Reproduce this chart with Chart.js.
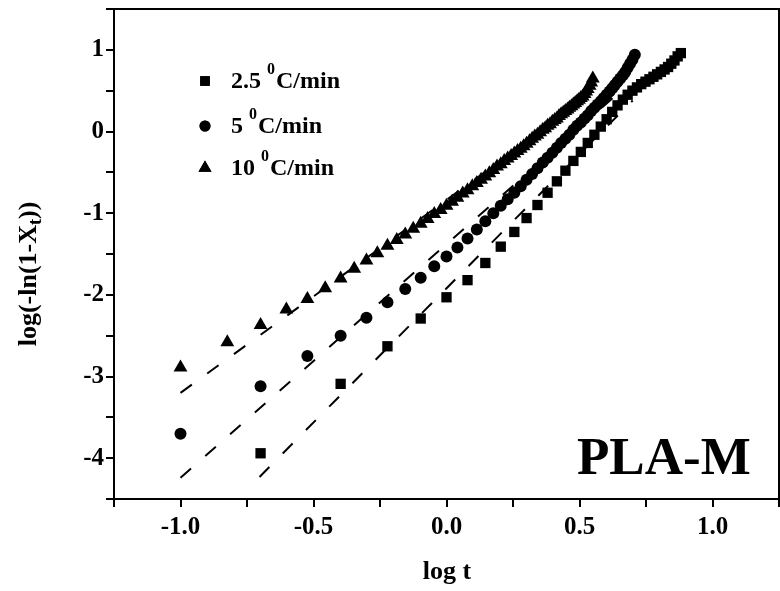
<!DOCTYPE html>
<html><head><meta charset="utf-8">
<script src="https://cdn.jsdelivr.net/npm/chart.js@4.4.1/dist/chart.umd.min.js"></script>
<style>html,body{margin:0;padding:0;background:#fff}canvas{display:block}</style>
</head><body>
<canvas id="c" width="780" height="591" style="width:780px;height:591px"></canvas>
<script>
// ---- data (log t, log(-ln(1-Xt))) ----
const seriesLabels = ['2.5', '5', '10'];
const xTickLabels = ['-1.0', '-0.5', '0.0', '0.5', '1.0'];
const yTickLabels = ['1', '0', '-1', '-2', '-3', '-4'];

const sqX = [-0.699,-0.398,-0.222,-0.097,0.000,0.079,0.146,0.204,0.255,0.301,0.342,0.380,0.415,0.447,0.477,0.505,0.531,0.556,0.580,0.602,0.623,0.643,0.663,0.681,0.699,0.716,0.732,0.748,0.763,0.778,0.792,0.806,0.820,0.833,0.845,0.857,0.869,0.881];
const sqY = [-3.94,-3.09,-2.63,-2.29,-2.03,-1.82,-1.61,-1.41,-1.23,-1.06,-0.90,-0.75,-0.61,-0.48,-0.36,-0.25,-0.14,-0.04,0.06,0.15,0.24,0.32,0.39,0.45,0.50,0.54,0.58,0.61,0.64,0.67,0.70,0.73,0.76,0.79,0.83,0.87,0.92,0.96];

const ciX = [-1.000,-0.699,-0.523,-0.398,-0.301,-0.222,-0.155,-0.097,-0.046,0.000,0.041,0.079,0.114,0.146,0.176,0.204,0.230,0.255,0.279,0.301,0.322,0.342,0.362,0.380,0.398,0.415,0.431,0.447,0.462,0.477,0.491,0.505,0.519,0.531,0.544,0.556,0.568,0.580,0.591,0.602,0.613,0.623,0.633,0.643,0.653,0.663,0.672,0.681,0.690,0.699,0.708];
const ciY = [-3.70,-3.12,-2.75,-2.50,-2.28,-2.09,-1.93,-1.79,-1.65,-1.53,-1.42,-1.31,-1.20,-1.10,-1.00,-0.91,-0.83,-0.75,-0.67,-0.59,-0.52,-0.45,-0.38,-0.32,-0.26,-0.20,-0.14,-0.09,-0.04,0.02,0.07,0.11,0.16,0.20,0.25,0.29,0.33,0.37,0.41,0.45,0.49,0.53,0.57,0.61,0.65,0.69,0.73,0.78,0.83,0.88,0.94];

const trX = [-1.000,-0.824,-0.699,-0.602,-0.523,-0.456,-0.398,-0.347,-0.301,-0.260,-0.222,-0.187,-0.155,-0.125,-0.097,-0.071,-0.046,-0.022,0.000,0.021,0.041,0.061,0.079,0.097,0.114,0.130,0.146,0.161,0.176,0.190,0.204,0.217,0.230,0.243,0.255,0.267,0.279,0.290,0.301,0.312,0.322,0.332,0.342,0.352,0.362,0.371,0.380,0.389,0.398,0.407,0.415,0.423,0.431,0.439,0.447,0.455,0.462,0.470,0.477,0.484,0.491,0.498,0.505,0.512,0.519,0.525,0.531,0.538,0.544,0.550];
const trY = [-2.89,-2.58,-2.37,-2.18,-2.05,-1.92,-1.80,-1.68,-1.58,-1.49,-1.40,-1.33,-1.26,-1.19,-1.13,-1.07,-1.01,-0.96,-0.91,-0.86,-0.81,-0.76,-0.72,-0.67,-0.63,-0.59,-0.55,-0.51,-0.47,-0.43,-0.40,-0.36,-0.33,-0.30,-0.27,-0.24,-0.21,-0.18,-0.15,-0.12,-0.09,-0.06,-0.04,-0.01,0.02,0.04,0.07,0.09,0.12,0.14,0.16,0.19,0.21,0.23,0.25,0.27,0.29,0.31,0.33,0.35,0.37,0.39,0.41,0.43,0.46,0.49,0.52,0.56,0.60,0.65];

// linear (Avrami) fit lines: endpoints
const fitSqX = [-0.703, 0.70];
const fitSqY = [-4.23, 0.38];
const fitCiX = [-1.0, 0.65];
const fitCiY = [-4.24, 0.48];
const fitTrX = [-1.0, 0.52];
const fitTrY = [-3.20, 0.39];

const pts = (xs, ys) => xs.map((x, i) => ({x: x, y: ys[i]}));
const FONT = '"Liberation Serif", "Times New Roman", serif';

const markerStyles = [
  {pointStyle: 'rect', radius: 7.3},
  {pointStyle: 'circle', radius: 6},
  {pointStyle: 'triangle', radius: 8}
];

function scatterDs(xs, ys, m, label) {
  return {type: 'scatter', label: label, data: pts(xs, ys), showLine: false,
    pointStyle: m.pointStyle, pointRadius: m.radius, pointHoverRadius: m.radius,
    pointBackgroundColor: '#000', pointBorderColor: '#000', pointBorderWidth: 0, order: 1};
}
function fitDs(xs, ys) {
  return {type: 'line', data: pts(xs, ys), showLine: true, borderColor: '#000', borderWidth: 2,
    borderDash: [14, 19], pointRadius: 0, fill: false, tension: 0, order: 2};
}

const overlay = {
  id: 'overlay',
  afterDraw(chart) {
    const ctx = chart.ctx, a = chart.chartArea;
    ctx.save();
    ctx.strokeStyle = '#000'; ctx.lineWidth = 2;
    ctx.strokeRect(a.left, a.top, a.right - a.left, a.bottom - a.top);
    ctx.fillStyle = '#000';
    // legend
    const rows = [81, 126, 168];
    const H = Chart.helpers;
    for (let i = 0; i < 3; i++) {
      const y = rows[i];
      H.drawPoint(ctx, {pointStyle: markerStyles[i].pointStyle, radius: markerStyles[i].radius - 0.5, rotation: 0, borderWidth: 0}, 205, y);
      ctx.fill();
      ctx.textBaseline = 'middle'; ctx.textAlign = 'left';
      ctx.font = 'bold 24px ' + FONT;
      let x = 231;
      const s1 = seriesLabels[i] + ' ';
      ctx.fillText(s1, x, y + 1); x += ctx.measureText(s1).width;
      ctx.font = 'bold 16px ' + FONT;
      ctx.fillText('0', x, y - 11); x += ctx.measureText('0').width + 1;
      ctx.font = 'bold 24px ' + FONT;
      ctx.fillText('C/min', x, y + 1);
    }
    // sample name
    ctx.font = 'bold 53px ' + FONT;
    ctx.textAlign = 'left'; ctx.textBaseline = 'alphabetic';
    ctx.fillText('PLA-M', 577, 474);
    // x title
    ctx.font = 'bold 26px ' + FONT;
    ctx.textAlign = 'center'; ctx.textBaseline = 'middle';
    ctx.fillText('log t', 447, 572);
    // y title with subscript
    ctx.translate(29, 274);
    ctx.rotate(-Math.PI / 2);
    const p1 = 'log(-ln(1-X', p2 = 't', p3 = '))';
    ctx.font = 'bold 26px ' + FONT;
    const w1 = ctx.measureText(p1).width, w3 = ctx.measureText(p3).width;
    ctx.font = 'bold 18px ' + FONT;
    const w2 = ctx.measureText(p2).width;
    let tx = -(w1 + w2 + w3) / 2;
    ctx.textAlign = 'left';
    ctx.font = 'bold 26px ' + FONT;
    ctx.fillText(p1, tx, 0); tx += w1;
    ctx.font = 'bold 18px ' + FONT;
    ctx.fillText(p2, tx, 7); tx += w2;
    ctx.font = 'bold 26px ' + FONT;
    ctx.fillText(p3, tx, 0);
    ctx.restore();
  }
};

new Chart(document.getElementById('c'), {
  data: {
    datasets: [
      fitDs(fitSqX, fitSqY), fitDs(fitCiX, fitCiY), fitDs(fitTrX, fitTrY),
      scatterDs(sqX, sqY, markerStyles[0], seriesLabels[0]),
      scatterDs(ciX, ciY, markerStyles[1], seriesLabels[1]),
      scatterDs(trX, trY, markerStyles[2], seriesLabels[2])
    ]
  },
  options: {
    responsive: false, animation: false, devicePixelRatio: 1,
    layout: {autoPadding: false, padding: {top: 9, right: 1, left: 0, bottom: 0}},
    plugins: {legend: {display: false}, tooltip: {enabled: false}},
    scales: {
      x: {
        type: 'linear', min: -1.25, max: 1.25,
        afterFit: s => { s.height = 92; s.paddingLeft = 0; s.paddingRight = 0; },
        grid: {drawOnChartArea: false, drawTicks: true, tickLength: 8, color: '#000', lineWidth: 2},
        border: {display: true, color: '#000', width: 2},
        ticks: {stepSize: 0.25, autoSkip: false, maxRotation: 0, padding: 6, color: '#000',
          font: {family: FONT, size: 25, weight: 'bold'},
          callback: v => { const k = Math.round(v * 2); return (Math.abs(v * 2 - k) < 1e-6 && xTickLabels.includes(v.toFixed(1))) ? v.toFixed(1) : ''; }}
      },
      y: {
        type: 'linear', min: -4.5, max: 1.5,
        afterFit: s => { s.width = 114; s.paddingTop = 0; s.paddingBottom = 0; },
        grid: {drawOnChartArea: false, drawTicks: true, tickLength: 8, color: '#000', lineWidth: 2},
        border: {display: true, color: '#000', width: 2},
        ticks: {stepSize: 0.5, autoSkip: false, padding: 2, color: '#000',
          font: {family: FONT, size: 25, weight: 'bold'},
          callback: v => { const s = String(Math.round(v)); return (Math.abs(v - Math.round(v)) < 1e-6 && yTickLabels.includes(s)) ? s : ''; }}
      }
    }
  },
  plugins: [overlay]
});
</script>
</body></html>
